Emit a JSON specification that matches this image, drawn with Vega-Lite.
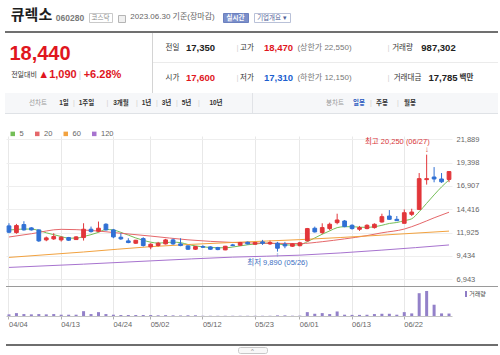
{
"$schema":"https://vega.github.io/schema/vega-lite/v6.json",
"padding":0,
"background":"white",
"config":{"view":{"stroke":null},"concat":{"spacing":0},"font":"Liberation Sans, Noto Sans CJK KR","axis":{"labelOverlap":false,"labelFlush":false}},
"datasets":{"days":[
{"d":"04/04","o":12637,"h":12921,"l":11854,"c":11960,"v":660000,"ma5":12200,"ma20":11450,"ma60":9270,"ma120":8200},
{"d":"04/05","o":11925,"h":12850,"l":11800,"c":12672,"v":1170000,"ma5":12250},
{"d":"04/06","o":12779,"h":13135,"l":12140,"c":12210,"v":780000,"ma5":12300},
{"d":"04/07","o":12423,"h":12500,"l":12140,"c":12210,"v":660000,"ma5":12300,"ma20":11800},
{"d":"04/10","o":12210,"h":12250,"l":10930,"c":11035,"v":780000,"ma5":12150},
{"d":"04/11","o":11142,"h":11500,"l":11000,"c":11355,"v":660000,"ma5":11900},
{"d":"04/12","o":11248,"h":11854,"l":11142,"c":11498,"v":780000,"ma5":11700},
{"d":"04/13","o":11142,"h":11520,"l":10964,"c":11427,"v":520000,"ma5":11500,"ma20":12270},
{"d":"04/14","o":11391,"h":11460,"l":11035,"c":11106,"v":520000,"ma5":11330},
{"d":"04/17","o":11177,"h":11530,"l":11142,"c":11462,"v":520000,"ma5":11330},
{"d":"04/18","o":11391,"h":12921,"l":11070,"c":12281,"v":1950000,"ma5":11500,"ma60":9850,"ma120":8550},
{"d":"04/19","o":12281,"h":12565,"l":11925,"c":12032,"v":780000,"ma5":11700,"ma20":12150},
{"d":"04/20","o":12067,"h":13099,"l":11960,"c":12388,"v":1560000,"ma5":11950},
{"d":"04/21","o":12815,"h":12921,"l":12140,"c":12210,"v":780000,"ma5":12250},
{"d":"04/24","o":12210,"h":12316,"l":11320,"c":11462,"v":520000,"ma5":12200},
{"d":"04/25","o":11427,"h":11854,"l":11142,"c":11248,"v":390000,"ma5":11950,"ma20":11850},
{"d":"04/26","o":11035,"h":11320,"l":10786,"c":10857,"v":390000,"ma5":11650},
{"d":"04/27","o":10786,"h":11142,"l":10715,"c":11106,"v":390000,"ma5":11350},
{"d":"04/28","o":11284,"h":11427,"l":10430,"c":10537,"v":390000,"ma5":11100},
{"d":"05/02","o":10394,"h":10786,"l":10145,"c":10679,"v":390000,"ma5":10900,"ma20":11550,"ma60":10420,"ma120":8900},
{"d":"05/03","o":10537,"h":10930,"l":10430,"c":10786,"v":280000,"ma5":10800},
{"d":"05/04","o":10715,"h":11250,"l":10650,"c":11142,"v":330000,"ma5":10850},
{"d":"05/08","o":11142,"h":11284,"l":10610,"c":10715,"v":250000,"ma5":10900},
{"d":"05/09","o":10715,"h":11320,"l":10466,"c":10537,"v":200000,"ma5":10850},
{"d":"05/10","o":10501,"h":10572,"l":10075,"c":10145,"v":280000,"ma5":10650,"ma20":11150},
{"d":"05/11","o":10145,"h":10501,"l":10075,"c":10430,"v":280000,"ma5":10500},
{"d":"05/12","o":10430,"h":10572,"l":10288,"c":10359,"v":100000,"ma5":10400},
{"d":"05/15","o":10394,"h":10466,"l":10075,"c":10145,"v":100000,"ma5":10330},
{"d":"05/16","o":10323,"h":10394,"l":10040,"c":10110,"v":100000,"ma5":10300},
{"d":"05/17","o":10074,"h":10501,"l":10040,"c":10466,"v":100000,"ma5":10300},
{"d":"05/18","o":10608,"h":10715,"l":10466,"c":10537,"v":100000,"ma5":10380,"ma20":10870,"ma60":10870,"ma120":9300},
{"d":"05/19","o":10572,"h":10928,"l":10501,"c":10857,"v":100000,"ma5":10500},
{"d":"05/22","o":10893,"h":10964,"l":10644,"c":10715,"v":100000,"ma5":10620},
{"d":"05/23","o":10679,"h":10928,"l":10608,"c":10857,"v":100000,"ma5":10700},
{"d":"05/24","o":10928,"h":11142,"l":10608,"c":10786,"v":100000,"ma5":10780},
{"d":"05/25","o":10715,"h":11070,"l":10608,"c":10857,"v":100000,"ma5":10800,"ma20":10780},
{"d":"05/26","o":10786,"h":10928,"l":9890,"c":10252,"v":250000,"ma5":10700},
{"d":"05/30","o":10679,"h":10928,"l":10252,"c":10501,"v":250000,"ma5":10620},
{"d":"05/31","o":10466,"h":10786,"l":10394,"c":10715,"v":120000,"ma5":10580},
{"d":"06/01","o":10520,"h":10928,"l":10450,"c":10830,"v":150000,"ma5":10620,"ma20":10750,"ma60":11170,"ma120":9510},
{"d":"06/02","o":11040,"h":12420,"l":10980,"c":12350,"v":1560000,"ma5":10950},
{"d":"06/05","o":12385,"h":12562,"l":11926,"c":11996,"v":900000,"ma5":11350},
{"d":"06/07","o":11926,"h":12915,"l":11749,"c":12456,"v":1170000,"ma5":11750,"ma20":10950},
{"d":"06/08","o":12350,"h":12986,"l":12173,"c":12809,"v":780000,"ma5":12100},
{"d":"06/09","o":12986,"h":13940,"l":12809,"c":13268,"v":1830000,"ma5":12450},
{"d":"06/12","o":13162,"h":13268,"l":12491,"c":12562,"v":520000,"ma5":12550,"ma20":11250},
{"d":"06/13","o":12703,"h":12809,"l":12244,"c":12350,"v":450000,"ma5":12550},
{"d":"06/14","o":12279,"h":12632,"l":12102,"c":12456,"v":450000,"ma5":12500},
{"d":"06/15","o":12350,"h":12809,"l":12279,"c":12703,"v":500000,"ma5":12480,"ma20":11600},
{"d":"06/16","o":12456,"h":12915,"l":12350,"c":12809,"v":780000,"ma5":12550},
{"d":"06/19","o":13057,"h":13940,"l":12986,"c":13622,"v":900000,"ma5":12700,"ma20":11900,"ma60":11650,"ma120":10050},
{"d":"06/20","o":13692,"h":14328,"l":13268,"c":13339,"v":900000,"ma5":12900},
{"d":"06/21","o":13339,"h":13692,"l":13162,"c":13198,"v":520000,"ma5":13000},
{"d":"06/22","o":12915,"h":14399,"l":12915,"c":14045,"v":1560000,"ma5":13200,"ma20":12300},
{"d":"06/23","o":13869,"h":14470,"l":13692,"c":14116,"v":1050000,"ma5":13400},
{"d":"06/26","o":14399,"h":18285,"l":14328,"c":17685,"v":9200000,"ma5":14150,"ma20":12850},
{"d":"06/27","o":17578,"h":20250,"l":17049,"c":17685,"v":10100000,"ma5":15050},
{"d":"06/28","o":17861,"h":18921,"l":17296,"c":17649,"v":4550000,"ma5":15950,"ma20":13500},
{"d":"06/29","o":17649,"h":18285,"l":17225,"c":17350,"v":1050000,"ma5":16800},
{"d":"06/30","o":17600,"h":18470,"l":17310,"c":18440,"v":987302,"ma5":17550,"ma20":14100,"ma60":12080,"ma120":10600}
]},
"spacing":0,
"resolve":{"scale":{"color":"independent"}},
"hconcat":[
{"spacing":0,"resolve":{"scale":{"color":"independent"}},
"vconcat":[
 {"spacing":0,"hconcat":[
  {"width":9,"height":29,"data":{"values":[]},"mark":"point"},
  {"width":45,"height":29,"data":{"values":[{"t":"큐렉소"}]},"mark":{"type":"text","fontSize":15,"fontWeight":"bold","color":"#1e1e1e","dy":0.5},"encoding":{"text":{"field":"t"}}},
  {"width":1,"height":29,"data":{"values":[]},"mark":"point"},
  {"width":30,"height":29,"data":{"values":[{"t":"060280"}]},"mark":{"type":"text","fontSize":8.5,"fontWeight":"bold","color":"#7a7a7a","dy":3},"encoding":{"text":{"field":"t"}}},
  {"width":3,"height":29,"data":{"values":[]},"mark":"point"},
  {"spacing":0,"vconcat":[
   {"width":23,"height":12,"data":{"values":[]},"mark":"point"},
   {"width":23,"height":9,"view":{"fill":"#ffffff","stroke":"#c9c9c9"},"data":{"values":[{"t":"코스닥"}]},"mark":{"type":"text","fontSize":6.5,"color":"#888"},"encoding":{"text":{"field":"t"}}},
   {"width":23,"height":8,"data":{"values":[]},"mark":"point"}
  ]},
  {"width":4,"height":29,"data":{"values":[]},"mark":"point"},
  {"spacing":0,"vconcat":[
   {"width":7,"height":14,"data":{"values":[]},"mark":"point"},
   {"width":7,"height":7,"view":{"fill":"#f0f0f0","stroke":"#b5b5b5"},"data":{"values":[]},"mark":"point"},
   {"width":7,"height":8,"data":{"values":[]},"mark":"point"}
  ]},
  {"width":1,"height":29,"data":{"values":[]},"mark":"point"},
  {"width":91,"height":29,"data":{"values":[{"t":"2023.06.30 기준(장마감)"}]},"mark":{"type":"text","fontSize":8,"color":"#666","dy":2.5},"encoding":{"text":{"field":"t"}}},
  {"width":4,"height":29,"data":{"values":[]},"mark":"point"},
  {"spacing":0,"vconcat":[
   {"width":25,"height":12,"data":{"values":[]},"mark":"point"},
   {"width":25,"height":9,"view":{"fill":"#7b8fca","stroke":"#6b80bf"},"data":{"values":[{"t":"실시간"}]},"mark":{"type":"text","fontSize":6.5,"fontWeight":"bold","color":"#ffffff"},"encoding":{"text":{"field":"t"}}},
   {"width":25,"height":8,"data":{"values":[]},"mark":"point"}
  ]},
  {"width":4,"height":29,"data":{"values":[]},"mark":"point"},
  {"spacing":0,"vconcat":[
   {"width":36,"height":12,"data":{"values":[]},"mark":"point"},
   {"width":36,"height":9,"view":{"fill":"#ffffff","stroke":"#b9c1d8"},"data":{"values":[{"t":"기업개요 ▾"}]},"mark":{"type":"text","fontSize":6.5,"color":"#52639a"},"encoding":{"text":{"field":"t"}}},
   {"width":36,"height":8,"data":{"values":[]},"mark":"point"}
  ]},
  {"width":215,"height":29,"data":{"values":[]},"mark":"point"}
 ]},
 {"spacing":0,"hconcat":[
  {"width":5,"height":2,"data":{"values":[]},"mark":"point"},
  {"width":493,"height":2,"view":{"fill":"#707070"},"data":{"values":[]},"mark":"point"}
 ]},
 {"spacing":0,"hconcat":[
  {"spacing":0,"vconcat":[
   {"width":152,"height":11,"data":{"values":[]},"mark":"point"},
   {"spacing":0,"hconcat":[
    {"width":9,"height":20,"data":{"values":[]},"mark":"point"},
    {"width":62,"height":20,"data":{"values":[{"t":"18,440"}]},"mark":{"type":"text","fontSize":20,"fontWeight":"bold","color":"#e0161e"},"encoding":{"text":{"field":"t"}}}
   ]},
   {"width":152,"height":5,"data":{"values":[]},"mark":"point"},
   {"spacing":0,"hconcat":[
    {"width":10,"height":12,"data":{"values":[]},"mark":"point"},
    {"width":28,"height":12,"data":{"values":[{"t":"전일대비"}]},"mark":{"type":"text","fontSize":7,"color":"#333"},"encoding":{"text":{"field":"t"}}},
    {"width":37,"height":12,"data":{"values":[{"t":"▲1,090"}]},"mark":{"type":"text","fontSize":11,"fontWeight":"bold","color":"#e0161e"},"encoding":{"text":{"field":"t"}}},
    {"width":6,"height":12,"data":{"values":[{"t":"|"}]},"mark":{"type":"text","fontSize":9,"color":"#d0d0d0"},"encoding":{"text":{"field":"t"}}},
    {"width":39,"height":12,"data":{"values":[{"t":"+6.28%"}]},"mark":{"type":"text","fontSize":11,"fontWeight":"bold","color":"#e0161e"},"encoding":{"text":{"field":"t"}}}
   ]},
   {"width":152,"height":12,"data":{"values":[]},"mark":"point"}
  ]},
  {"width":1,"height":60,"view":{"fill":"#d4d4d4"},"data":{"values":[]},"mark":"point"},
  {"spacing":0,"vconcat":[
   {"spacing":0,"hconcat":[
    {"width":11,"height":29,"data":{"values":[]},"mark":"point"},
    {"width":17,"height":29,"data":{"values":[{"t":"전일"}]},"mark":{"type":"text","fontSize":7.5,"color":"#333"},"encoding":{"text":{"field":"t"}}},
    {"width":4,"height":29,"data":{"values":[]},"mark":"point"},
    {"width":31,"height":29,"data":{"values":[{"t":"17,350"}]},"mark":{"type":"text","fontSize":9.5,"fontWeight":"bold","color":"#222"},"encoding":{"text":{"field":"t"}}},
    {"width":20,"height":29,"data":{"values":[]},"mark":"point"},
    {"width":3,"height":29,"data":{"values":[{"t":"|"}]},"mark":{"type":"text","fontSize":8,"color":"#d2d2d2"},"encoding":{"text":{"field":"t"}}},
    {"width":16,"height":29,"data":{"values":[{"t":"고가"}]},"mark":{"type":"text","fontSize":7.5,"color":"#333"},"encoding":{"text":{"field":"t"}}},
    {"width":8,"height":29,"data":{"values":[]},"mark":"point"},
    {"width":31,"height":29,"data":{"values":[{"t":"18,470"}]},"mark":{"type":"text","fontSize":9.5,"fontWeight":"bold","color":"#e0161e"},"encoding":{"text":{"field":"t"}}},
    {"width":1,"height":29,"data":{"values":[]},"mark":"point"},
    {"width":59,"height":29,"data":{"values":[{"t":"(상한가 22,550)"}]},"mark":{"type":"text","fontSize":8,"color":"#777"},"encoding":{"text":{"field":"t"}}},
    {"width":32,"height":29,"data":{"values":[]},"mark":"point"},
    {"width":5,"height":29,"data":{"values":[{"t":"|"}]},"mark":{"type":"text","fontSize":8,"color":"#d2d2d2"},"encoding":{"text":{"field":"t"}}},
    {"width":23,"height":29,"data":{"values":[{"t":"거래량"}]},"mark":{"type":"text","fontSize":7.5,"color":"#333"},"encoding":{"text":{"field":"t"}}},
    {"width":5,"height":29,"data":{"values":[]},"mark":"point"},
    {"width":39,"height":29,"data":{"values":[{"t":"987,302"}]},"mark":{"type":"text","fontSize":9.5,"fontWeight":"bold","color":"#222"},"encoding":{"text":{"field":"t"}}},
    {"width":40,"height":29,"data":{"values":[]},"mark":"point"}
   ]},
   {"width":345,"height":1,"view":{"fill":"#ebebeb"},"data":{"values":[]},"mark":"point"},
   {"spacing":0,"hconcat":[
    {"width":11,"height":30,"data":{"values":[]},"mark":"point"},
    {"width":17,"height":30,"data":{"values":[{"t":"시가"}]},"mark":{"type":"text","fontSize":7.5,"color":"#333"},"encoding":{"text":{"field":"t"}}},
    {"width":4,"height":30,"data":{"values":[]},"mark":"point"},
    {"width":31,"height":30,"data":{"values":[{"t":"17,600"}]},"mark":{"type":"text","fontSize":9.5,"fontWeight":"bold","color":"#e0161e"},"encoding":{"text":{"field":"t"}}},
    {"width":20,"height":30,"data":{"values":[]},"mark":"point"},
    {"width":3,"height":30,"data":{"values":[{"t":"|"}]},"mark":{"type":"text","fontSize":8,"color":"#d2d2d2"},"encoding":{"text":{"field":"t"}}},
    {"width":16,"height":30,"data":{"values":[{"t":"저가"}]},"mark":{"type":"text","fontSize":7.5,"color":"#333"},"encoding":{"text":{"field":"t"}}},
    {"width":8,"height":30,"data":{"values":[]},"mark":"point"},
    {"width":31,"height":30,"data":{"values":[{"t":"17,310"}]},"mark":{"type":"text","fontSize":9.5,"fontWeight":"bold","color":"#1c5fcf"},"encoding":{"text":{"field":"t"}}},
    {"width":1,"height":30,"data":{"values":[]},"mark":"point"},
    {"width":59,"height":30,"data":{"values":[{"t":"(하한가 12,150)"}]},"mark":{"type":"text","fontSize":8,"color":"#777"},"encoding":{"text":{"field":"t"}}},
    {"width":32,"height":30,"data":{"values":[]},"mark":"point"},
    {"width":5,"height":30,"data":{"values":[{"t":"|"}]},"mark":{"type":"text","fontSize":8,"color":"#d2d2d2"},"encoding":{"text":{"field":"t"}}},
    {"width":33,"height":30,"data":{"values":[{"t":"거래대금"}]},"mark":{"type":"text","fontSize":7.5,"color":"#333"},"encoding":{"text":{"field":"t"}}},
    {"width":4,"height":30,"data":{"values":[]},"mark":"point"},
    {"width":30,"height":30,"data":{"values":[{"t":"17,785"}]},"mark":{"type":"text","fontSize":9.5,"fontWeight":"bold","color":"#222"},"encoding":{"text":{"field":"t"}}},
    {"width":17,"height":30,"data":{"values":[{"t":"백만"}]},"mark":{"type":"text","fontSize":7.5,"fontWeight":"bold","color":"#333"},"encoding":{"text":{"field":"t"}}},
    {"width":23,"height":30,"data":{"values":[]},"mark":"point"}
   ]}
  ]}
 ]},
 {"spacing":0,"hconcat":[
  {"width":5,"height":21,"data":{"values":[]},"mark":"point"},
  {"spacing":0,"vconcat":[
   {"spacing":0,"hconcat":[
    {"width":23,"height":20,"view":{"fill":"#f6f7f9"},"data":{"values":[]},"mark":"point"},
    {"width":20,"height":20,"view":{"fill":"#f6f7f9"},"data":{"values":[{"t":"선차트"}]},"mark":{"type":"text","fontSize":6.5,"color":"#9a9a9a"},"encoding":{"text":{"field":"t"}}},
    {"width":10,"height":20,"view":{"fill":"#f6f7f9"},"data":{"values":[]},"mark":"point"},
    {"width":12,"height":20,"view":{"fill":"#f6f7f9"},"data":{"values":[{"t":"1일"}]},"mark":{"type":"text","fontSize":6.5,"fontWeight":"bold","color":"#333"},"encoding":{"text":{"field":"t"}}},
    {"width":2,"height":20,"view":{"fill":"#f6f7f9"},"data":{"values":[]},"mark":"point"},
    {"width":4,"height":20,"view":{"fill":"#f6f7f9"},"data":{"values":[{"t":"|"}]},"mark":{"type":"text","fontSize":7,"color":"#d0d0d0"},"encoding":{"text":{"field":"t"}}},
    {"width":2,"height":20,"view":{"fill":"#f6f7f9"},"data":{"values":[]},"mark":"point"},
    {"width":17,"height":20,"view":{"fill":"#f6f7f9"},"data":{"values":[{"t":"1주일"}]},"mark":{"type":"text","fontSize":6.5,"fontWeight":"bold","color":"#333"},"encoding":{"text":{"field":"t"}}},
    {"width":10,"height":20,"view":{"fill":"#f6f7f9"},"data":{"values":[]},"mark":"point"},
    {"width":5,"height":20,"view":{"fill":"#f6f7f9"},"data":{"values":[{"t":"|"}]},"mark":{"type":"text","fontSize":7,"color":"#d0d0d0"},"encoding":{"text":{"field":"t"}}},
    {"width":2,"height":20,"view":{"fill":"#f6f7f9"},"data":{"values":[]},"mark":"point"},
    {"width":18,"height":20,"view":{"fill":"#f6f7f9"},"data":{"values":[{"t":"3개월"}]},"mark":{"type":"text","fontSize":6.5,"fontWeight":"bold","color":"#333"},"encoding":{"text":{"field":"t"}}},
    {"width":5,"height":20,"view":{"fill":"#f6f7f9"},"data":{"values":[]},"mark":"point"},
    {"width":4,"height":20,"view":{"fill":"#f6f7f9"},"data":{"values":[{"t":"|"}]},"mark":{"type":"text","fontSize":7,"color":"#d0d0d0"},"encoding":{"text":{"field":"t"}}},
    {"width":2,"height":20,"view":{"fill":"#f6f7f9"},"data":{"values":[]},"mark":"point"},
    {"width":11,"height":20,"view":{"fill":"#f6f7f9"},"data":{"values":[{"t":"1년"}]},"mark":{"type":"text","fontSize":6.5,"fontWeight":"bold","color":"#333"},"encoding":{"text":{"field":"t"}}},
    {"width":3,"height":20,"view":{"fill":"#f6f7f9"},"data":{"values":[]},"mark":"point"},
    {"width":4,"height":20,"view":{"fill":"#f6f7f9"},"data":{"values":[{"t":"|"}]},"mark":{"type":"text","fontSize":7,"color":"#d0d0d0"},"encoding":{"text":{"field":"t"}}},
    {"width":2,"height":20,"view":{"fill":"#f6f7f9"},"data":{"values":[]},"mark":"point"},
    {"width":11,"height":20,"view":{"fill":"#f6f7f9"},"data":{"values":[{"t":"3년"}]},"mark":{"type":"text","fontSize":6.5,"fontWeight":"bold","color":"#333"},"encoding":{"text":{"field":"t"}}},
    {"width":3,"height":20,"view":{"fill":"#f6f7f9"},"data":{"values":[]},"mark":"point"},
    {"width":4,"height":20,"view":{"fill":"#f6f7f9"},"data":{"values":[{"t":"|"}]},"mark":{"type":"text","fontSize":7,"color":"#d0d0d0"},"encoding":{"text":{"field":"t"}}},
    {"width":2,"height":20,"view":{"fill":"#f6f7f9"},"data":{"values":[]},"mark":"point"},
    {"width":11,"height":20,"view":{"fill":"#f6f7f9"},"data":{"values":[{"t":"5년"}]},"mark":{"type":"text","fontSize":6.5,"fontWeight":"bold","color":"#333"},"encoding":{"text":{"field":"t"}}},
    {"width":5,"height":20,"view":{"fill":"#f6f7f9"},"data":{"values":[]},"mark":"point"},
    {"width":4,"height":20,"view":{"fill":"#f6f7f9"},"data":{"values":[{"t":"|"}]},"mark":{"type":"text","fontSize":7,"color":"#d0d0d0"},"encoding":{"text":{"field":"t"}}},
    {"width":7,"height":20,"view":{"fill":"#f6f7f9"},"data":{"values":[]},"mark":"point"},
    {"width":16,"height":20,"view":{"fill":"#f6f7f9"},"data":{"values":[{"t":"10년"}]},"mark":{"type":"text","fontSize":6.5,"fontWeight":"bold","color":"#333"},"encoding":{"text":{"field":"t"}}},
    {"width":28,"height":20,"view":{"fill":"#f6f7f9"},"data":{"values":[]},"mark":"point"},
    {"width":1,"height":20,"view":{"fill":"#e1e3e7"},"data":{"values":[]},"mark":"point"},
    {"width":72,"height":20,"view":{"fill":"#f6f7f9"},"data":{"values":[]},"mark":"point"},
    {"width":20,"height":20,"view":{"fill":"#f6f7f9"},"data":{"values":[{"t":"봉차트"}]},"mark":{"type":"text","fontSize":6.5,"color":"#9a9a9a"},"encoding":{"text":{"field":"t"}}},
    {"width":7,"height":20,"view":{"fill":"#f6f7f9"},"data":{"values":[]},"mark":"point"},
    {"width":14,"height":20,"view":{"fill":"#f6f7f9"},"data":{"values":[{"t":"일봉"}]},"mark":{"type":"text","fontSize":6.5,"fontWeight":"bold","color":"#2b5bc0"},"encoding":{"text":{"field":"t"}}},
    {"width":3,"height":20,"view":{"fill":"#f6f7f9"},"data":{"values":[]},"mark":"point"},
    {"width":4,"height":20,"view":{"fill":"#f6f7f9"},"data":{"values":[{"t":"|"}]},"mark":{"type":"text","fontSize":7,"color":"#d0d0d0"},"encoding":{"text":{"field":"t"}}},
    {"width":2,"height":20,"view":{"fill":"#f6f7f9"},"data":{"values":[]},"mark":"point"},
    {"width":14,"height":20,"view":{"fill":"#f6f7f9"},"data":{"values":[{"t":"주봉"}]},"mark":{"type":"text","fontSize":6.5,"fontWeight":"bold","color":"#333"},"encoding":{"text":{"field":"t"}}},
    {"width":7,"height":20,"view":{"fill":"#f6f7f9"},"data":{"values":[]},"mark":"point"},
    {"width":4,"height":20,"view":{"fill":"#f6f7f9"},"data":{"values":[{"t":"|"}]},"mark":{"type":"text","fontSize":7,"color":"#d0d0d0"},"encoding":{"text":{"field":"t"}}},
    {"width":3,"height":20,"view":{"fill":"#f6f7f9"},"data":{"values":[]},"mark":"point"},
    {"width":14,"height":20,"view":{"fill":"#f6f7f9"},"data":{"values":[{"t":"월봉"}]},"mark":{"type":"text","fontSize":6.5,"fontWeight":"bold","color":"#333"},"encoding":{"text":{"field":"t"}}},
    {"width":81,"height":20,"view":{"fill":"#f6f7f9"},"data":{"values":[]},"mark":"point"}
   ]},
   {"width":493,"height":1,"view":{"fill":"#dfe2e6"},"data":{"values":[]},"mark":"point"}
  ]}
 ]},
 {"width":498,"height":13,"data":{"values":[]},"mark":"point"},
 {"spacing":0,"resolve":{"scale":{"color":"independent"}},"hconcat":[
  {"width":6,"height":150,"data":{"values":[]},"mark":"point"},
  {"width":446,"height":150,"data":{"name":"days"},
   "layer":[
    {"transform":[{"fold":["ma5","ma20","ma60","ma120"],"as":["k","val"]},{"filter":"isValid(datum.val)"}],
     "mark":{"type":"line","strokeWidth":1,"interpolate":"monotone"},
     "encoding":{
      "x":{"field":"d","type":"ordinal","scale":{"type":"band","paddingInner":0.5,"paddingOuter":0.15},
           "axis":{"values":["04/04","04/13","04/24","05/02","05/12","05/23","06/01","06/13","06/22"],"bandPosition":0.5,"labels":false,"ticks":false,"domain":false,"grid":true,"gridColor":"#e8e8e8","title":null}},
      "y":{"field":"val","type":"quantitative","scale":{"domain":[6216,22242],"nice":false,"zero":false},
           "axis":{"orient":"right","values":[6943,9434,11925,14416,16907,19398,21889],"tickCount":20,"format":",d","labelFontSize":7.5,"labelColor":"#666","labelPadding":4,"ticks":false,"tickSize":0,"labelOverlap":false,"labelFlush":false,"labelBound":false,"domain":false,"grid":true,"gridColor":"#eeeeee","title":null}},
      "color":{"field":"k","type":"nominal","scale":{"domain":["ma5","ma20","ma60","ma120"],"range":["#74be57","#e5676a","#f2a23f","#a773cf"]},
           "legend":{"orient":"top","direction":"horizontal","title":null,"symbolType":"square","symbolSize":4,"symbolStrokeWidth":2.5,"labelFontSize":7.5,"labelColor":"#666","labelExpr":"replace(datum.label,'ma','')","columnPadding":6.5,"labelOffset":3,"padding":3,"offset":-7}}
     }},
    {"mark":{"type":"rule","strokeWidth":1},
     "encoding":{"x":{"field":"d","type":"ordinal"},"y":{"field":"l","type":"quantitative"},"y2":{"field":"h"},
      "color":{"condition":{"test":"datum.c >= datum.o","value":"#e2363a"},"value":"#3070d4"}}},
    {"mark":{"type":"bar","strokeWidth":1},
     "encoding":{"x":{"field":"d","type":"ordinal"},"y":{"field":"o","type":"quantitative"},"y2":{"field":"c"},
      "color":{"condition":{"test":"datum.c >= datum.o","value":"#e2363a"},"value":"#3070d4"},
      "stroke":{"condition":{"test":"datum.c >= datum.o","value":"#e2363a"},"value":"#3070d4"}}},
    {"data":{"values":[{"d":"06/27","p":20250,"lab":"최고 20,250 (06/27)"}]},
     "layer":[
      {"mark":{"type":"text","align":"right","dx":3,"dy":-13,"fontSize":7.5,"color":"#d8363b"},"encoding":{"x":{"field":"d","type":"ordinal"},"y":{"field":"p","type":"quantitative"},"text":{"field":"lab"}}},
      {"mark":{"type":"text","text":"↓","dy":-5,"fontSize":8,"color":"#d8363b"},"encoding":{"x":{"field":"d","type":"ordinal"},"y":{"field":"p","type":"quantitative"}}}
     ]},
    {"data":{"values":[{"d":"05/26","p":9890,"lab":"최저 9,890 (05/26)"}]},
     "layer":[
      {"mark":{"type":"text","align":"center","dy":11,"fontSize":7.5,"color":"#3c6fc2"},"encoding":{"x":{"field":"d","type":"ordinal"},"y":{"field":"p","type":"quantitative"},"text":{"field":"lab"}}},
      {"mark":{"type":"text","text":"↑","dy":3.5,"fontSize":6.5,"color":"#3c6fc2"},"encoding":{"x":{"field":"d","type":"ordinal"},"y":{"field":"p","type":"quantitative"}}}
     ]}
   ]}
 ]},
 {"spacing":0,"hconcat":[
  {"width":6,"height":1,"data":{"values":[]},"mark":"point"},
  {"width":492,"height":1,"view":{"fill":"#9a9a9a"},"data":{"values":[]},"mark":"point"}
 ]},
 {"spacing":0,"hconcat":[
  {"width":6,"height":29,"data":{"values":[]},"mark":"point"},
  {"width":446,"height":29,"data":{"name":"days"},
   "mark":{"type":"bar","width":3,"color":"#9381c9"},
   "encoding":{
    "x":{"field":"d","type":"ordinal","scale":{"type":"band","paddingInner":0.5,"paddingOuter":0.15},
         "axis":{"values":["04/04","04/13","04/24","05/02","05/12","05/23","06/01","06/13","06/22"],"bandPosition":0.5,"grid":true,"gridColor":"#e8e8e8","ticks":true,"tickSize":3,"tickColor":"#b0b0b0","domain":true,"domainColor":"#c4c4c4","labelAlign":"left","labelBaseline":"top","labelPadding":1,"labelFontSize":7.5,"labelColor":"#666","labelAngle":0,"labelFlush":false,"labelOverlap":false,"title":null}},
    "y":{"field":"v","type":"quantitative","scale":{"domain":[0,11700000],"nice":false},"axis":null}
   }},
  {"spacing":0,"vconcat":[
   {"width":46,"height":4,"data":{"values":[]},"mark":"point"},
   {"spacing":0,"hconcat":[
    {"width":13,"height":6,"data":{"values":[]},"mark":"point"},
    {"width":2,"height":6,"view":{"fill":"#8f7cc5"},"data":{"values":[]},"mark":"point"},
    {"width":1,"height":6,"data":{"values":[]},"mark":"point"},
    {"width":19,"height":6,"data":{"values":[{"t":"거래량"}]},"mark":{"type":"text","fontSize":6,"color":"#444"},"encoding":{"text":{"field":"t"}}}
   ]},
   {"width":46,"height":19,"data":{"values":[]},"mark":"point"}
  ]}
 ]},
 {"width":498,"height":16,"data":{"values":[]},"mark":"point"},
 {"spacing":0,"hconcat":[
  {"width":6,"height":2,"data":{"values":[]},"mark":"point"},
  {"width":492,"height":2,"view":{"fill":"#6e6e6e"},"data":{"values":[]},"mark":"point"}
 ]},
 {"spacing":0,"hconcat":[
  {"width":237,"height":6,"data":{"values":[]},"mark":"point"},
  {"width":29,"height":6,"view":{"fill":"#f8f8f8","stroke":"#c8c8c8","cornerRadius":2},"data":{"values":[{"t":"^"}]},"mark":{"type":"text","fontSize":6,"color":"#888","dy":1},"encoding":{"text":{"field":"t"}}}
 ]}
]},
{"spacing":0,"vconcat":[
 {"width":1,"height":29,"data":{"values":[]},"mark":"point"},
 {"width":1,"height":317,"view":{"fill":"#8c8c8c"},"data":{"values":[]},"mark":"point"}
]}
]
}
